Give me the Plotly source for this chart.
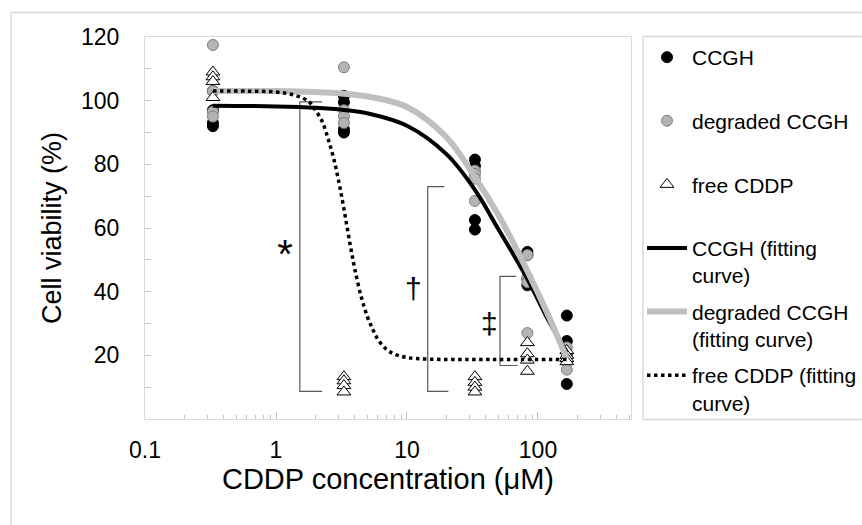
import plotly.graph_objects as go

# ---------------- data ----------------
conc = [0.33, 3.3, 33, 83, 166]

ccgh_y = [[103, 97, 93, 92],
          [101.5, 99.5, 91, 90],
          [81.5, 79.5, 62.5, 59.5],
          [52.5, 51.5, 44, 42],
          [32.5, 24.5, 20, 11]]
degraded_y = [[117.5, 103, 96.5, 95],
              [110.5, 97, 95, 93],
              [78, 77, 75.5, 68.5],
              [51.5, 44.5, 43, 27],
              [22.5, 19.5, 18, 15.5]]
free_y = [[109, 107.5, 106, 101],
          [13.3, 12, 10.5, 8.5],
          [13.3, 11.5, 10, 8.5],
          [24, 20.5, 18.5, 15],
          [21.5, 20, 19, 18]]

# fitted curves
ccgh_fit_x = [0.33, 1, 2, 3.3, 5, 10, 20, 33, 50, 83, 120, 166]
ccgh_fit_y = [98.4, 98.2, 97.8, 97.1, 96.0, 92.1, 83.2, 72.0, 59.5, 44.0, 31.0, 21.0]
deg_fit_x = [0.33, 1, 2, 3.3, 5, 10, 20, 33, 50, 83, 120, 166]
deg_fit_y = [103, 103, 102.7, 102.2, 101.3, 98.0, 88.5, 76.0, 64.0, 46.5, 32.5, 19.0]
free_fit_x = [0.33, 0.6, 1, 1.3, 1.6, 1.8, 2, 2.25, 2.5, 2.75, 3, 3.25, 3.5, 3.75,
              4, 4.5, 5, 5.5, 6, 7, 8, 10, 15, 30, 60, 166]
free_fit_y = [103, 103, 102.7, 102, 100.8, 99.5, 97, 93.5, 88, 82, 75, 67.5, 60, 53,
              47, 38, 32, 28, 25, 21.8, 20.4, 19.3, 18.8, 18.7, 18.7, 18.7]

# significance brackets and symbols
bracket_x = [[2.25, 1.52, 1.52, 2.25], [19.3, 14.4, 14.4, 20.7], [68.2, 51.3, 51.3, 70]]
bracket_y = [[99.6, 99.6, 8.7, 8.7], [73, 73, 8.7, 8.7], [44.8, 44.8, 16.8, 16.8]]
sym_text = ["*", "†", "‡"]
sym_x = [1.17, 11.2, 42.5]
sym_y = [50.5, 40, 29]
sym_size = [40, 30, 30]

x_tick_vals = [0.1, 1, 10, 100]
x_tick_text = ["0.1", "1", "10", "100"]
x_minor_vals = [0.2, 0.3, 0.4, 0.5, 0.6, 0.7, 0.8, 0.9,
                2, 3, 4, 5, 6, 7, 8, 9,
                20, 30, 40, 50, 60, 70, 80, 90,
                200, 300, 400, 500]
y_tick_vals = [10, 20, 30, 40, 50, 60, 70, 80, 90, 100, 110, 120]
y_tick_text = ["", "20", "", "40", "", "60", "", "80", "", "100", "", "120"]

names = ["CCGH<br> ", "degraded CCGH<br> ", "free CDDP<br> ",
         "CCGH (fitting<br>curve)", "degraded CCGH<br>(fitting curve)",
         "free CDDP (fitting<br>curve)"]


def flat(groups):
    xs, ys = [], []
    for c, vals in zip(conc, groups):
        for v in vals:
            xs.append(c)
            ys.append(v)
    return xs, ys


FONT = "Liberation Sans, Arial, Helvetica, sans-serif"
fig = go.Figure()

# brackets
for bx, by in zip(bracket_x, bracket_y):
    fig.add_trace(go.Scatter(x=bx, y=by, mode="lines", showlegend=False,
                             hoverinfo="skip",
                             line=dict(color="#595959", width=1.2)))
fig.add_trace(go.Scatter(x=sym_x, y=sym_y, mode="text", text=sym_text,
                         showlegend=False, hoverinfo="skip",
                         textfont=dict(family=FONT, size=sym_size, color="black")))

x1, y1 = flat(ccgh_y)
x2, y2 = flat(degraded_y)
x3, y3 = flat(free_y)
fig.add_trace(go.Scatter(x=x1, y=y1, mode="markers", name=names[0], legendgroup="a",
                         marker=dict(symbol="circle", size=11, color="black",
                                     line=dict(color="black", width=1))))
fig.add_trace(go.Scatter(x=x2, y=y2, mode="markers", name=names[1], legendgroup="b",
                         marker=dict(symbol="circle", size=11, color="#B3B3B3",
                                     line=dict(color="#7F7F7F", width=1))))
fig.add_trace(go.Scatter(x=x3, y=y3, mode="markers", name=names[2], legendgroup="c",
                         marker=dict(symbol="triangle-up", size=12, color="white",
                                     line=dict(color="black", width=1))))
fig.add_trace(go.Scatter(x=ccgh_fit_x, y=ccgh_fit_y, mode="lines", name=names[3],
                         legendgroup="d", line=dict(color="black", width=4, shape="spline")))
fig.add_trace(go.Scatter(x=deg_fit_x, y=deg_fit_y, mode="lines", name=names[4],
                         legendgroup="e", line=dict(color="#BFBFBF", width=6, shape="spline")))
fig.add_trace(go.Scatter(x=free_fit_x, y=free_fit_y, mode="lines", name=names[5],
                         legendgroup="f",
                         line=dict(color="black", width=3.5, dash="3.5px,3.5px",
                                   shape="spline")))

L, R, T, B = 145, 231, 36.5, 105.5
PW, PH = 862 - L - R, 525 - T - B


def px(xp):
    return (xp - L) / PW


def py(yp):
    return (525 - B - yp) / PH


fig.update_layout(
    width=862, height=525,
    margin=dict(l=L, r=R, t=T, b=B, autoexpand=False),
    paper_bgcolor="white", plot_bgcolor="white",
    font=dict(family=FONT, color="black"),
    showlegend=True,
    legend=dict(x=px(642), y=py(36.5), xanchor="left", yanchor="top",
                font=dict(family=FONT, size=21, color="black"),
                tracegroupgap=6, itemwidth=40, valign="top",
                bgcolor="rgba(0,0,0,0)", borderwidth=0),
    xaxis=dict(type="log", range=[-1, 2.71], tickmode="array",
               tickvals=x_tick_vals, ticktext=x_tick_text,
               ticks="inside", ticklen=7, tickcolor="#BFBFBF", tickwidth=1,
               minor=dict(tickvals=x_minor_vals, ticks="inside", ticklen=4,
                          tickcolor="#BFBFBF", showgrid=False),
               showgrid=False, zeroline=False,
               showline=True, linecolor="#D9D9D9", linewidth=1, mirror=True,
               tickfont=dict(size=23, family=FONT, color="black"),
               ticklabelstandoff=10,
               title=dict(text="CDDP concentration (μM)", standoff=4,
                          font=dict(size=29, family=FONT, color="black"))),
    yaxis=dict(range=[0, 120], tickmode="array", tickvals=y_tick_vals,
               ticktext=y_tick_text,
               ticks="inside", ticklen=6, tickcolor="#BFBFBF", tickwidth=1,
               showgrid=False, zeroline=False,
               showline=True, linecolor="#D9D9D9", linewidth=1, mirror=True,
               tickfont=dict(size=23, family=FONT, color="black"),
               ticklabelstandoff=20),
    annotations=[
        dict(text="Cell viability (%)", xref="paper", yref="paper",
             x=px(52), y=0.5, xanchor="center", yanchor="middle",
             textangle=-90, showarrow=False,
             font=dict(size=27, family=FONT, color="black")),
    ],
    shapes=[
        dict(type="rect", xref="paper", yref="paper",
             x0=px(11), x1=px(875), y0=py(12), y1=py(540),
             line=dict(color="#D9D9D9", width=1.5), layer="below"),
        dict(type="rect", xref="paper", yref="paper",
             x0=px(643), x1=px(875), y0=py(36), y1=py(420),
             line=dict(color="#D9D9D9", width=1.5), layer="below"),
    ],
)

fig.write_html("out.html")
